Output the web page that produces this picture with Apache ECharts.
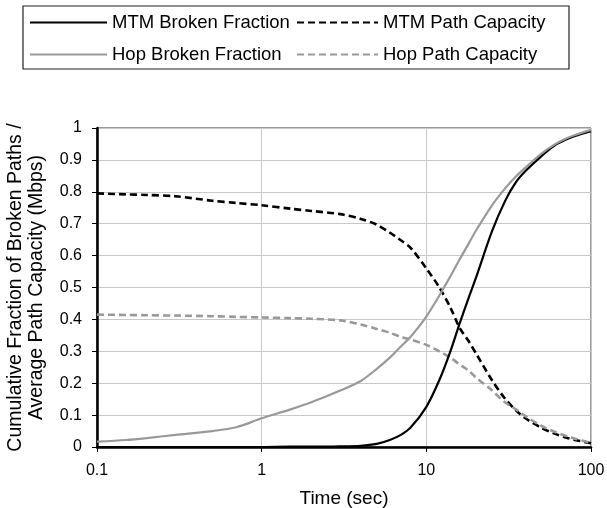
<!DOCTYPE html>
<html>
<head>
<meta charset="utf-8">
<script src="https://cdn.jsdelivr.net/npm/echarts@6/dist/echarts.min.js"></script>
<style>
html,body{margin:0;padding:0;background:#fff;}
#chart{width:607px;height:508px;}
</style>
</head>
<body>
<div id="chart"></div>
<script>
// Time axis (sec)
const times = [0.1, 0.15, 0.2, 0.3, 0.5, 0.7, 1, 1.5, 2, 3, 4, 5, 6, 7, 8, 10, 12, 14, 16, 18, 20, 25, 30, 35, 40, 50, 60, 70, 80, 100];
const mtmBroken = [0, 0, 0, 0, 0, 0, 0, 0.001, 0.001, 0.002, 0.004, 0.01, 0.022, 0.038, 0.06, 0.126, 0.21, 0.30, 0.39, 0.465, 0.53, 0.675, 0.77, 0.83, 0.865, 0.912, 0.945, 0.963, 0.975, 0.99];
const mtmCapacity = [0.795, 0.792, 0.79, 0.786, 0.772, 0.765, 0.758, 0.747, 0.74, 0.73, 0.715, 0.697, 0.672, 0.648, 0.625, 0.56, 0.50, 0.437, 0.372, 0.333, 0.294, 0.21, 0.152, 0.115, 0.09, 0.06, 0.042, 0.03, 0.022, 0.012];
const hopBroken = [0.017, 0.022, 0.028, 0.038, 0.05, 0.062, 0.09, 0.118, 0.14, 0.177, 0.207, 0.245, 0.28, 0.315, 0.345, 0.409, 0.475, 0.535, 0.59, 0.636, 0.678, 0.757, 0.81, 0.848, 0.876, 0.92, 0.948, 0.966, 0.978, 0.994];
const hopCapacity = [0.415, 0.414, 0.413, 0.412, 0.41, 0.408, 0.406, 0.404, 0.402, 0.397, 0.384, 0.37, 0.358, 0.345, 0.337, 0.32, 0.30, 0.28, 0.258, 0.24, 0.218, 0.178, 0.14, 0.118, 0.097, 0.066, 0.048, 0.035, 0.026, 0.013];
const seriesNames = ['MTM Broken Fraction', 'MTM Path Capacity', 'Hop Broken Fraction', 'Hop Path Capacity'];
const xTickLabels = ['0.1', '1', '10', '100'];

const FONT = 'Liberation Sans, Arial, sans-serif';
const pairs = arr => times.map((t, i) => [t, arr[i]]);

const chart = echarts.init(document.getElementById('chart'), null, {renderer: 'canvas'});
const mk = (name, data, color, dashed) => ({
  name: name, type: 'line', data: pairs(data), symbol: 'none', showSymbol: false, smooth: 0.3,
  lineStyle: {color: color, width: dashed ? 2.6 : 2.2, type: dashed ? [7, 4] : 'solid'},
  itemStyle: {color: color},
  z: dashed ? 3 : 4
});
const legendCommon = {
  orient: 'vertical', top: 13, itemHeight: 14, itemGap: 13, padding: 0,
  itemStyle: {opacity: 0},
  textStyle: {fontSize: 18.5, color: '#000', fontFamily: FONT}
};

chart.setOption({
  animation: false,
  backgroundColor: '#fff',
  textStyle: {fontFamily: FONT},
  grid: {left: 97, right: 16, top: 128, bottom: 61, show: true, borderColor: '#333', borderWidth: 1,
    outerBoundsMode: 'none', containLabel: false},
  graphic: [{
    type: 'rect', shape: {x: 23, y: 6, width: 546, height: 63},
    style: {fill: 'none', stroke: '#222', lineWidth: 1.2}, z: 100
  }],
  legend: [
    Object.assign({}, legendCommon, {left: 29, itemWidth: 77, data: [seriesNames[0], seriesNames[2]]}),
    Object.assign({}, legendCommon, {left: 296, itemWidth: 81, data: [seriesNames[1], seriesNames[3]]})
  ],
  xAxis: {
    type: 'log', logBase: 10, min: 0.1, max: 100,
    name: 'Time (sec)', nameLocation: 'middle', nameGap: 42,
    nameTextStyle: {fontSize: 19, color: '#000', fontFamily: FONT},
    axisLine: {lineStyle: {color: '#000', width: 2.5}},
    axisTick: {show: true, inside: false, length: 5, lineStyle: {color: '#000', width: 1}},
    axisLabel: {fontSize: 16, color: '#000', margin: 16, fontFamily: FONT,
      formatter: v => { const s = String(+v.toPrecision(3)); return xTickLabels.includes(s) ? s : ''; }},
    splitLine: {show: true, lineStyle: {color: '#c8c8c8', width: 1}},
    minorTick: {show: false}, minorSplitLine: {show: false}
  },
  yAxis: {
    type: 'value', min: 0, max: 1, interval: 0.1,
    name: 'Cumulative Fraction of Broken Paths /\nAverage Path Capacity (Mbps)',
    nameLocation: 'middle', nameGap: 50, nameRotate: 90,
    nameTextStyle: {fontSize: 19.5, color: '#000', fontFamily: FONT, lineHeight: 21},
    axisLine: {show: true, lineStyle: {color: '#000', width: 2.5}},
    axisTick: {show: true, inside: false, length: 5, lineStyle: {color: '#000', width: 1}},
    axisLabel: {fontSize: 16, color: '#000', margin: 15, fontFamily: FONT},
    splitLine: {show: true, lineStyle: {color: '#c8c8c8', width: 1}}
  },
  series: [
    mk(seriesNames[0], mtmBroken, '#000000', false),
    mk(seriesNames[1], mtmCapacity, '#000000', true),
    mk(seriesNames[2], hopBroken, '#999999', false),
    mk(seriesNames[3], hopCapacity, '#999999', true)
  ]
});
</script>
</body>
</html>
